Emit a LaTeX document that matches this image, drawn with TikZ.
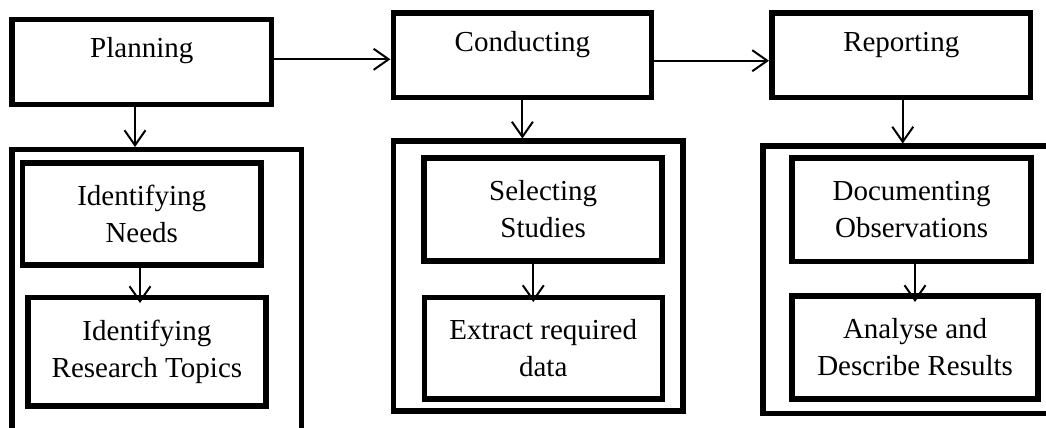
\documentclass[tikz,border=0pt]{standalone}
\usepackage{fontspec}
\setmainfont{Liberation Serif}
\usetikzlibrary{arrows.meta}

\tikzset{
  box/.style={draw=black, line width=5.5pt, rectangle, inner sep=0pt, outer sep=0pt,
    align=center, font=\fontsize{29pt}{37pt}\selectfont},
  phasebox/.style={box, text height=20pt, text depth=28pt},
  groupbox/.style={draw=black, line width=5.5pt, rectangle, inner sep=0pt, outer sep=0pt},
  flow/.style={draw=black, line width=2pt, -{Straight Barb[length=15pt, width=21pt]}}
}

\begin{document}
\begin{tikzpicture}[x=1pt, y=-1pt]
  \useasboundingbox (0,0) rectangle (1046,428);
  \clip (0,0) rectangle (1046,428);

  % phase boxes along the top
  \node[phasebox, minimum width=259.5pt, minimum height=85pt] (plan) at (141.75,62) {Planning};
  \node[phasebox, minimum width=258pt, minimum height=84.7pt] (cond) at (522.4,55.2) {Conducting};
  \node[phasebox, minimum width=258.5pt, minimum height=84.7pt] (rep) at (901.25,55.2) {Reporting};

  % group frames below each phase
  \node[groupbox, minimum width=289.5pt, minimum height=295.5pt] (g1) at (156.75,297.25) {};
  \node[groupbox, minimum width=289.3pt, minimum height=270pt] (g2) at (538.3,276) {};
  \node[groupbox, minimum width=297pt, minimum height=267.7pt] (g3) at (911.5,279.85) {};

  % steps inside each group
  \node[box, minimum width=238.5pt, minimum height=102pt] (needs) at (141.75,214) {Identifying\\Needs};
  \node[box, minimum width=238.2pt, minimum height=108.5pt] (topics) at (146.9,351.75) {Identifying\\Research Topics};
  \node[box, minimum width=237.8pt, minimum height=103pt] (select) at (543.1,209.3) {Selecting\\Studies};
  \node[box, minimum width=238pt, minimum height=101.3pt] (extract) at (543.25,348.2) {Extract required\\data};
  \node[box, minimum width=238.8pt, minimum height=103.8pt] (docobs) at (911.6,209.7) {Documenting\\Observations};
  \node[box, minimum width=245.8pt, minimum height=102.8pt] (analyse) at (915.1,347.4) {Analyse and\\Describe Results};

  % connectors between phases
  \draw[flow, shorten >=3pt] ([yshift=2.7pt]plan.east) -- ([yshift=2.7pt]plan.east -| cond.west);
  \draw[flow, shorten >=3pt] ([yshift=-5.5pt]cond.east) -- ([yshift=-5.5pt]cond.east -| rep.west);

  % connectors from phases to their groups
  \draw[flow, shorten >=2.5pt] ([xshift=-6.75pt]plan.south) -- ([xshift=-6.75pt]plan.south |- g1.north);
  \draw[flow, shorten >=2.5pt] (cond.south) -- (cond.south |- g2.north);
  \draw[flow, shorten >=2.5pt] ([xshift=1.5pt]rep.south) -- ([xshift=1.5pt]rep.south |- g3.north);

  % connectors between steps
  \draw[flow, shorten >=-5.5pt] ([xshift=-1.75pt]needs.south) -- ([xshift=-1.75pt]needs.south |- topics.north);
  \draw[flow, shorten >=-4.5pt] ([xshift=-9.8pt]select.south) -- ([xshift=-9.8pt]select.south |- extract.north);
  \draw[flow, shorten >=-6pt] ([xshift=3.4pt]docobs.south) -- ([xshift=3.4pt]docobs.south |- analyse.north);
\end{tikzpicture}
\end{document}
